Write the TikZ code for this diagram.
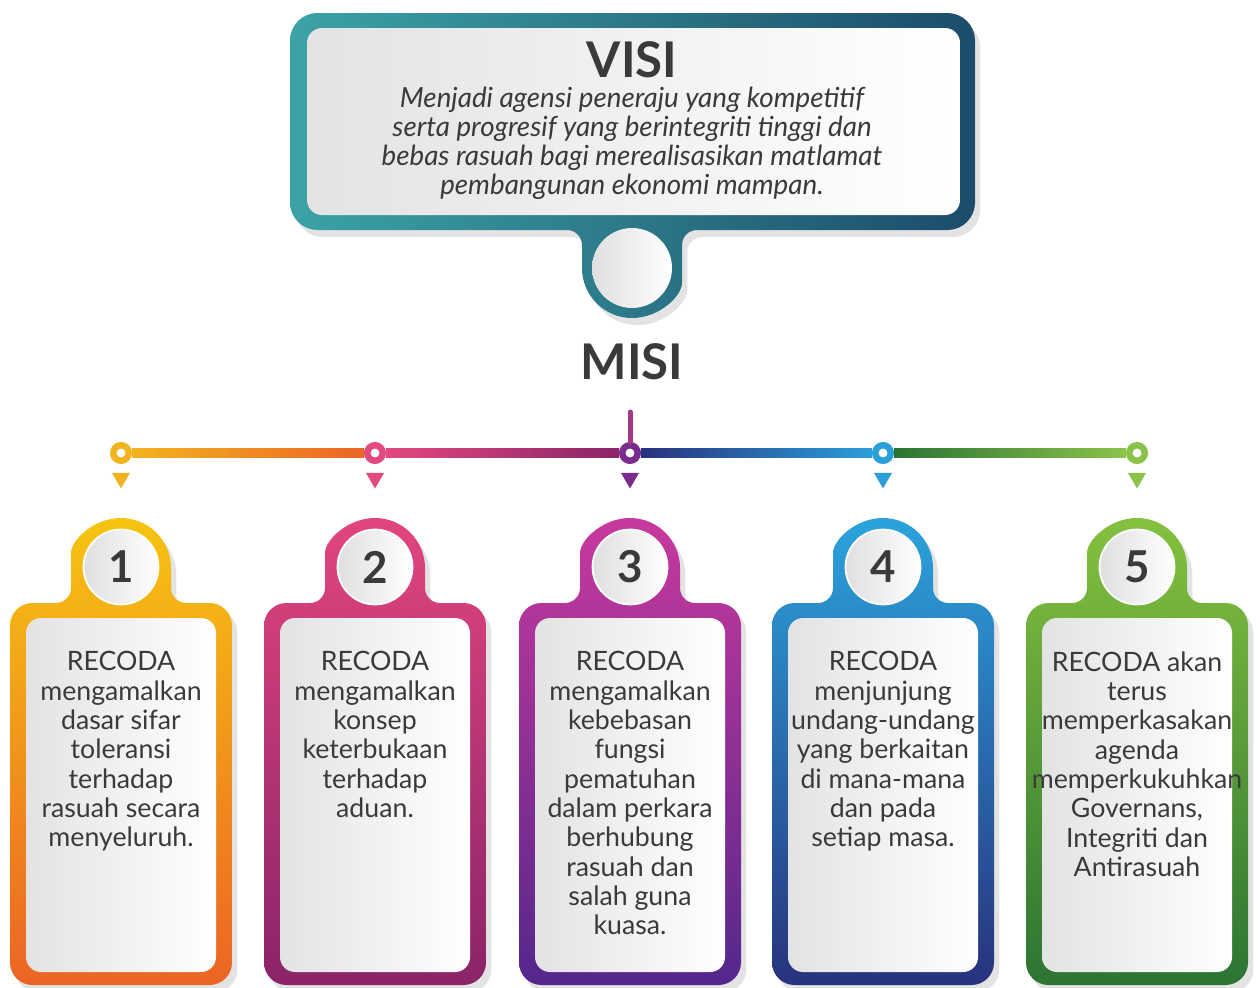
\documentclass[tikz,border=0pt]{standalone}
\usepackage{fontspec}
\setmainfont{Lato}
\usetikzlibrary{shapes.geometric,shadows}

\definecolor{visiL}{HTML}{3BA3A6}
\definecolor{visiR}{HTML}{1C4C6C}
\definecolor{txt}{HTML}{3A3A3A}
\definecolor{yelT}{HTML}{F6C412}
\definecolor{yelB}{HTML}{EC6424}
\definecolor{pnkT}{HTML}{E2457F}
\definecolor{pnkB}{HTML}{8A2468}
\definecolor{magT}{HTML}{C8399D}
\definecolor{magB}{HTML}{54278C}
\definecolor{bluT}{HTML}{2BA3DC}
\definecolor{bluB}{HTML}{28327E}
\definecolor{grnT}{HTML}{84C13E}
\definecolor{grnB}{HTML}{2C7433}
\definecolor{dotA}{HTML}{F2B320}
\definecolor{dotB}{HTML}{E3487F}
\definecolor{dotC}{HTML}{7A2C8E}
\definecolor{dotD}{HTML}{2A9FDA}
\definecolor{dotE}{HTML}{8BC34A}

\begin{document}
\begin{tikzpicture}[x=0.02cm, y=-0.02cm,
  softshadow/.style={drop shadow={opacity=0.22, shadow xshift=3pt, shadow yshift=-4pt}},
  panel/.style={left color=gray!22, right color=white, rounded corners=0.3cm},
  numball/.style={circle, minimum size=1.5cm, inner sep=0pt, left color=gray!25, right color=white, draw=white, line width=1pt, text=txt, font=\bfseries\fontsize{25}{25}\selectfont},
  ring/.style={circle, minimum size=0.31cm, inner sep=0pt, fill=white, draw=#1, line width=0.13cm},
  pointer/.style={regular polygon, regular polygon sides=3, shape border rotate=180, minimum size=0.42cm, inner sep=0pt, fill=#1},
  heading/.style={text=txt, font=\bfseries\fontsize{28}{30}\selectfont},
  cardtext/.style={anchor=north, inner sep=0pt, align=center, text=txt, font=\fontsize{15.2}{16.7}\selectfont}
]
  \useasboundingbox[fill=white] (0,0) rectangle (1260,987);

  % visi box with its round tab
  \path[left color=visiL, right color=visiR, softshadow]
    (290,120) [rounded corners=0.55cm] -- (290,13) -- (975,13) -- (975,230)
    [rounded corners=0.3cm] -- (682,230) -- (682,268) [sharp corners]
    arc[start angle=0, end angle=180, radius=50]
    [rounded corners=0.3cm] -- (582,230) [rounded corners=0.55cm] -- (290,230) -- cycle;
  \path[panel] (307,28) rectangle (960,215);
  \node[circle, minimum size=1.6cm, left color=gray!25, right color=white] (tab) at (632,268) {};
  \node[heading] (visi) at (632,60) {VISI};
  \node[anchor=north, inner sep=0pt, align=center, text=txt, font=\itshape\fontsize{15.8}{16.5}\selectfont] (vtext) at (632,87)
    {Menjadi agensi peneraju yang kompetitif\\serta progresif yang berintegriti tinggi dan\\bebas rasuah bagi merealisasikan matlamat\\pembangunan ekonomi mampan.};

  \node[heading] (misi) at (632,362) {MISI};

  % cards
  \foreach \cx/\n/\ct/\cb/\dc in {121/1/yelT/yelB/dotA, 375/2/pnkT/pnkB/dotB, 630/3/magT/magB/dotC, 883/4/bluT/bluB/dotD, 1137/5/grnT/grnB/dotE}{
    \path[top color=\ct, bottom color=\cb, softshadow]
      (\cx-111,800) [rounded corners=0.45cm] -- (\cx-111,603) [rounded corners=0.3cm] -- (\cx-50,603) -- (\cx-50,568) [sharp corners]
      arc[start angle=180, end angle=360, radius=50]
      [rounded corners=0.3cm] -- (\cx+50,603) [rounded corners=0.45cm] -- (\cx+111,603) -- (\cx+111,985) -- (\cx-111,985) -- cycle;
    \path[panel] (\cx-95,618) rectangle (\cx+95,972);
    \node[numball] (n\n) at (\cx,567) {\n};
    \node[ring=\dc] (d\n) at (\cx,453) {};
    \node[pointer=\dc] (t\n) at (\cx,478) {};
  }

  % timeline
  \coordinate (stem) at (630,412);
  \draw[line width=0.1cm, line cap=round, color=dotC!60!dotB] (stem) -- (d3.north);
  \shade[left color=dotA, right color=yelB] ([yshift=-2.5pt]d1.east) rectangle ([yshift=2.5pt]d2.west);
  \shade[left color=dotB, right color=pnkB] ([yshift=-2.5pt]d2.east) rectangle ([yshift=2.5pt]d3.west);
  \shade[left color=bluB, right color=dotD] ([yshift=-2.5pt]d3.east) rectangle ([yshift=2.5pt]d4.west);
  \shade[left color=grnB, right color=dotE] ([yshift=-2.5pt]d4.east) rectangle ([yshift=2.5pt]d5.west);

  \node[cardtext] (m1) at (121,651) {RECODA\\mengamalkan\\dasar sifar\\toleransi\\terhadap\\rasuah secara\\menyeluruh.};
  \node[cardtext] (m2) at (375,651) {RECODA\\mengamalkan\\konsep\\keterbukaan\\terhadap\\aduan.};
  \node[cardtext] (m3) at (630,651) {RECODA\\mengamalkan\\kebebasan\\fungsi\\pematuhan\\dalam perkara\\berhubung\\rasuah dan\\salah guna\\kuasa.};
  \node[cardtext] (m4) at (883,651) {RECODA\\menjunjung\\undang-undang\\yang berkaitan\\di mana-mana\\dan pada\\setiap masa.};
  \node[cardtext] (m5) at (1137,651) {RECODA akan\\terus\\memperkasakan\\agenda\\memperkukuhkan\\Governans,\\Integriti dan\\Antirasuah};
\end{tikzpicture}
\end{document}
